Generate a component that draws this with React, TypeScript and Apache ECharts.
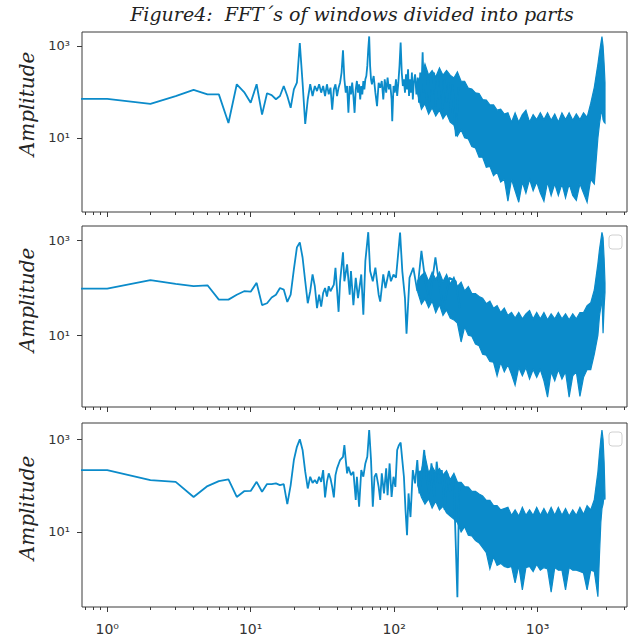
import React, { useEffect, useRef } from 'react';
import * as echarts from 'echarts';

// ---------- data ----------
const TITLE = 'Figure4:  FFT´s of windows divided into parts';
const Y_NAME = 'Amplitude';

const X_MIN = 0.667;
const X_MAX = 4200;
const X_MAJOR = [1, 10, 100, 1000];
const X_MINOR = [0.7, 0.8, 0.9, 2, 3, 4, 5, 6, 7, 8, 9, 20, 30, 40, 50, 60, 70, 80, 90, 200, 300, 400, 500, 600, 700, 800, 900, 2000, 3000, 4000];
const Y_TICKS = [10, 1000];
const Y_RANGE_1 = [0.245, 1995];
const Y_RANGE_2 = [0.31, 1972];
const Y_RANGE_3 = [0.24, 2254];

// low-frequency part of each spectrum: [frequency bin, amplitude]
const P1_LINE = [[0.5,70],[1,70],[2,55],[3,81],[4,110],[5,88],[6,88],[7,21],[8,146],[9,99],[10,58],[11,146],[12,32],[13,93],[14,85],[15,69],[16,81],[17,134],[18,81],[19,45],[20,113],[21,158],[22,1140],[23,158],[24,20],[25,69],[26,146],[27,81],[28,134],[29,104],[30,146],[31,96],[32,134],[33,81],[34,146],[35,88],[36,123],[37,41],[38,113],[39,146],[40,81],[41,123],[42,158],[43,262],[44,800],[45,187],[46,96],[47,134],[48,35],[49,134],[50,88],[51,158],[52,81],[53,35],[54,113],[55,172],[56,96],[57,146],[58,68],[59,134],[60,88],[61,172],[62,113],[63,187],[64,221],[65,366],[66,850],[67,1600],[68,366],[69,187],[70,146],[72,221],[74,96],[76,49],[78,158],[80,123],[82,172],[84,68],[86,187],[88,96],[90,204],[92,113],[94,146],[96,68],[97,23],[99,134],[101,96],[103,187],[105,81],[107,158],[109,366],[111,1180],[113,262],[115,134],[117,187],[119,96],[121,240],[123,113],[125,310],[127,81],[129,187],[131,96],[133,262],[135,68],[137,158],[140,240],[143,88],[146,204],[149,58],[152,262],[155,104],[158,720],[161,96],[164,240],[168,68],[172,204],[176,58],[180,221],[185,88],[190,262],[195,49],[200,204],[206,68],[212,240],[218,41],[225,187],[232,58],[240,158],[248,35],[256,146],[264,23],[270,10.8],[280,123]];

const P2_LINE = [[0.5,95],[1,95],[2,143],[3,120],[4,107],[5,112],[6,56],[7,56],[8,71],[9,84],[10,82],[11,126],[12,43],[13,47],[14,62],[15,71],[16,98],[17,91],[18,50],[19,71],[20,241],[21,700],[22,890],[23,430],[24,136],[25,47],[26,84],[27,189],[28,107],[29,37],[30,71],[31,40],[32,77],[33,98],[34,65],[35,107],[36,84],[38,116],[39,262],[41,31],[42,136],[44,550],[45,136],[47,308],[49,71],[50,223],[52,43],[54,161],[56,60],[59,189],[61,27],[63,363],[66,1460],[68,223],[71,136],[74,262],[78,71],[80,51],[84,189],[87,98],[92,223],[95,136],[99,189],[103,161],[110,1430],[114,223],[119,60],[122,10.8],[128,161],[136,262],[145,84],[155,590],[165,136],[176,51],[194,430],[207,107],[221,37],[243,161],[269,136],[287,37]];

const P3_LINE = [[0.5,217],[1,217],[2,132],[3,121],[4,57],[5,98],[6,125],[7,136],[8,57],[9,76],[10,77],[11,121],[12,74],[13,108],[14,108],[15,112],[16,103],[17,108],[18,40],[19,103],[20,357],[21,690],[22,1000],[23,590],[24,200],[25,87],[26,156],[27,115],[28,132],[29,112],[30,156],[31,121],[32,217],[33,56],[34,121],[35,184],[36,143],[37,94],[38,56],[39,169],[40,236],[42,357],[44,420],[45,750],[46,357],[47,184],[48,256],[50,169],[52,200],[54,49],[55,156],[57,35],[59,217],[61,156],[63,302],[65,420],[67,1590],[69,357],[71,35],[73,156],[75,184],[78,94],[80,49],[82,184],[85,68],[88,236],[90,62],[93,302],[96,57],[99,156],[102,94],[105,590],[108,750],[111,850],[114,357],[117,156],[120,30],[123,8.5],[126,68],[130,21],[135,217],[140,112],[145,357],[150,68],[155,156],[162,590],[168,156],[175,68],[182,302],[190,57],[198,329],[206,112],[215,217],[225,30],[235,184],[245,74],[260,156],[276,0.39],[284,94]];

// dense high-frequency part: envelope (upper / lower amplitude) at these bins
const BAND_F = [146,155,164,174,184,195,207,219,232,246,261,276,293,310,329,348,369,391,414,439,465,493,522,553,586,621,658,697,739,783,829,879,931,986,1045,1107,1173,1243,1317,1395,1478,1566,1659,1758,1862,1973,2090,2214,2346,2485,2633,2700,2760,2810,2860,2910,2950];

const P1_HI = [180,220,400,230,290,210,330,230,290,230,200,270,170,170,120,115,95,92,68,66,52,52,40,42,33,35,22,35,22,32,40,22,32,25,35,25,35,24,33,22,35,25,35,24,33,25,35,28,56,125,400,710,1120,1580,1000,400,160];
const P1_LO = [90,42,55,33,45,30,40,26,34,22,19,11,15,10,9.5,6.5,6,3.8,3.8,2.3,2.4,1.5,1.8,1.1,1.26,0.42,1.26,0.71,0.4,1.1,0.63,1.26,0.71,1.1,0.63,0.42,1.1,0.56,1.0,0.56,1.0,0.5,1.0,0.56,0.44,1.0,0.63,0.4,1.26,1.0,10,20,32,40,25,22,21];

const P2_HI = [140,180,210,135,210,150,210,135,190,120,165,105,130,85,105,75,75,65,60,46,52,37,42,30,37,26,30,23,30,22,28,33,22,30,22,30,21,28,22,30,22,28,21,28,22,30,30,42,48,89,320,630,1000,1450,1120,400,126];
const P2_LO = [80,45,58,38,52,30,44,26,34,23,21,18,7.2,15,10,9.5,6.5,6,4,3.8,2.8,2.7,1.4,2.7,1.7,2.4,1.5,0.89,2.1,1.4,2.1,1.2,1.9,1.3,1.9,1.1,0.5,1.7,1.1,1.9,1.2,1.7,0.5,1.4,1.7,0.52,1.3,1.9,1.9,4.0,10,25,40,63,11,40,79];

const P3_HI = [200,210,447,190,260,190,235,170,210,135,185,120,118,95,93,75,75,66,60,48,48,37,37,30,32,34,23,30,22,34,23,30,23,34,23,32,23,34,23,34,23,32,22,30,23,34,24,37,30,50,200,500,1000,1580,1000,316,63];
const P3_LO = [100,56,40,52,33,46,30,36,26,22,19,16,10,13,8.5,8.2,6.5,5.8,4.6,3.6,1.6,2.9,1.9,2.1,1.8,1.7,1.8,0.8,1.9,0.56,1.7,1.8,1.4,2.0,1.5,1.7,1.6,0.5,1.7,1.5,1.5,0.56,1.7,1.5,1.5,1.4,1.3,0.56,1.5,1.4,0.4,3.2,16,32,40,63,50];

// ---------- styling ----------
const BLUE = '#0b8bca';
const AXIS = '#3a3a3a';
const SUP: Record<number, string> = { 0: '⁰', 1: '¹', 2: '²', 3: '³' };
const fmtPow = (v: number) => '10' + (SUP[Math.round(Math.log10(v))] ?? '');

const PANELS = [
  { line: P1_LINE, hi: P1_HI, lo: P1_LO, yr: Y_RANGE_1, top: 32, height: 180, ampY: 104, legend: false },
  { line: P2_LINE, hi: P2_HI, lo: P2_LO, yr: Y_RANGE_2, top: 226, height: 181, ampY: 300, legend: true },
  { line: P3_LINE, hi: P3_HI, lo: P3_LO, yr: Y_RANGE_3, top: 423, height: 184, ampY: 508, legend: true },
];

function buildOption() {
  const grid: any[] = [];
  const xAxis: any[] = [];
  const yAxis: any[] = [];
  const series: any[] = [];
  const graphic: any[] = [];

  PANELS.forEach((p, i) => {
    grid.push({
      left: 82, width: 545, top: p.top, height: p.height,
      show: true, borderColor: AXIS, borderWidth: 1,
      containLabel: false, outerBoundsMode: 'none',
    });
    xAxis.push({
      type: 'log', logBase: 10, gridIndex: i, min: X_MIN, max: X_MAX, position: 'bottom',
      axisLine: { show: false }, splitLine: { show: false },
      axisTick: { show: true, inside: false, length: 5, customValues: X_MAJOR, lineStyle: { color: AXIS, width: 1 } },
      axisLabel: {
        show: i === 2, customValues: X_MAJOR, margin: 15, formatter: fmtPow,
        color: '#333', fontSize: 14, fontFamily: 'DejaVu Sans',
      },
    });
    xAxis.push({
      type: 'log', logBase: 10, gridIndex: i, min: X_MIN, max: X_MAX, position: 'bottom',
      axisLine: { show: false }, splitLine: { show: false },
      axisTick: { show: true, inside: false, length: 3, customValues: X_MINOR, lineStyle: { color: AXIS, width: 1 } },
      axisLabel: { show: false },
    });
    yAxis.push({
      type: 'log', logBase: 10, gridIndex: i, min: p.yr[0], max: p.yr[1],
      axisLine: { show: false }, splitLine: { show: false },
      axisTick: { show: true, inside: false, length: 5, customValues: Y_TICKS, lineStyle: { color: AXIS, width: 1 } },
      axisLabel: {
        customValues: Y_TICKS, margin: 12, formatter: fmtPow,
        color: '#333', fontSize: 13, fontFamily: 'DejaVu Sans',
      },
    });
    const hi = p.hi, lo = p.lo;
    series.push({
      type: 'custom', coordinateSystem: 'cartesian2d', xAxisIndex: 2 * i, yAxisIndex: i,
      data: BAND_F.map((f, k) => [f, hi[k], lo[k]]),
      encode: { x: 0, y: 1 },
      z: 2,
      renderItem: (params: any, api: any) => {
        if (params.dataIndex !== 0) return null;
        const top = BAND_F.map((f, k) => api.coord([f, hi[k]]));
        const bot = BAND_F.map((f, k) => api.coord([f, lo[k]])).reverse();
        return {
          type: 'polygon',
          shape: { points: top.concat(bot) },
          style: { fill: BLUE, stroke: BLUE, lineWidth: 1.2, lineJoin: 'miter' },
        };
      },
    });
    series.push({
      type: 'line', xAxisIndex: 2 * i, yAxisIndex: i, data: p.line,
      showSymbol: false, symbol: 'none', clip: true, z: 3,
      lineStyle: { color: BLUE, width: 1.8 },
    });
    graphic.push({
      type: 'text', x: 27, y: p.ampY, rotation: Math.PI / 2, z: 10,
      style: { text: Y_NAME, font: 'italic 20px "DejaVu Serif"', fill: '#222', align: 'center', verticalAlign: 'middle' },
    });
    if (p.legend) {
      graphic.push({
        type: 'rect', x: 609, y: p.top + 9, z: 10,
        shape: { width: 13, height: 14, r: 3 },
        style: { fill: 'rgba(255,255,255,0.85)', stroke: '#d0d0d0', lineWidth: 1 },
      });
    }
  });

  graphic.push({
    type: 'text', x: 352, y: 14, z: 10,
    style: { text: TITLE, font: 'italic 19px "DejaVu Serif"', fill: '#222', align: 'center', verticalAlign: 'middle' },
  });

  return { animation: false, backgroundColor: '#fff', grid, xAxis, yAxis, series, graphic };
}

export default function App() {
  const ref = useRef<HTMLDivElement>(null);
  useEffect(() => {
    if (!ref.current) return;
    const chart = echarts.init(ref.current, null, { renderer: 'svg' });
    chart.setOption(buildOption() as any);
    return () => chart.dispose();
  }, []);
  return (
    <div
      ref={ref}
      style={{ position: 'fixed', left: 0, top: 0, width: 634, height: 641, background: '#fff' }}
    />
  );
}
